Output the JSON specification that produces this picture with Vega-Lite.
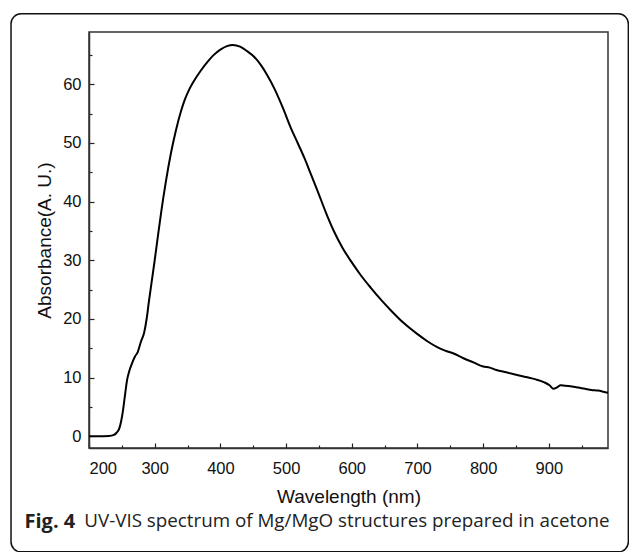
{
  "$schema": "https://vega.github.io/schema/vega-lite/v6.json",
  "padding": {"left": 9, "top": 12, "right": 0, "bottom": 0},
  "autosize": {"type": "pad"},
  "background": "white",
  "config": {
    "view": {"stroke": "#333", "strokeWidth": 1.5},
    "axis": {
      "labelFont": "Liberation Sans", "titleFont": "Liberation Sans",
      "labelColor": "#111", "titleColor": "#111", "titleFontWeight": "normal",
      "grid": false, "domainColor": "#333", "domainWidth": 1.5, "tickColor": "#222", "tickWidth": 1.2
    },
    "title": {"font": "Open Sans", "color": "#222"}
  },
  "title": {"text": "Fig. 4", "orient": "bottom", "anchor": "start", "fontWeight": "bold", "fontSize": 20, "offset": 0, "dx": 15, "dy": -41.5},
  "vconcat": [
    {
      "width": 519,
      "height": 416,
      "title": {"text": "UV-VIS spectrum of Mg/MgO structures prepared in acetone", "orient": "bottom", "anchor": "start", "fontWeight": "normal", "fontSize": 18.8, "offset": 0, "dx": 74, "dy": -41},
      "layer": [
        {
          "data": {"values": [{"box": "frame"}]},
          "mark": {"type": "rect", "filled": false, "stroke": "#111", "strokeWidth": 1.5, "cornerRadius": 10},
          "encoding": {
            "x": {"datum": 81.3, "type": "quantitative", "axis": {"orient": "bottom", "values": [250, 350, 450, 550, 650, 750, 850, 950], "tickSize": -3, "labels": false, "domain": false, "title": null}},
            "x2": {"datum": 1021},
            "y": {"datum": 72, "type": "quantitative", "axis": {"orient": "left", "values": [5, 15, 25, 35, 45, 55, 65], "tickSize": -3, "labels": false, "domain": false, "title": null}},
            "y2": {"datum": -19.7}
          }
        },
        {
          "data": {"values": [
            {"wavelength": 200, "absorbance": 0.0}, {"wavelength": 215, "absorbance": 0.0}, {"wavelength": 230, "absorbance": 0.05},
            {"wavelength": 238, "absorbance": 0.25}, {"wavelength": 242, "absorbance": 0.6}, {"wavelength": 246, "absorbance": 1.3},
            {"wavelength": 249, "absorbance": 2.6}, {"wavelength": 252, "absorbance": 4.6}, {"wavelength": 255, "absorbance": 7.2},
            {"wavelength": 258, "absorbance": 9.6}, {"wavelength": 261, "absorbance": 11.0}, {"wavelength": 265, "absorbance": 12.3},
            {"wavelength": 270, "absorbance": 13.6}, {"wavelength": 274, "absorbance": 14.3}, {"wavelength": 279, "absorbance": 16.1},
            {"wavelength": 284, "absorbance": 17.7}, {"wavelength": 288, "absorbance": 20.2}, {"wavelength": 291, "absorbance": 22.8},
            {"wavelength": 295, "absorbance": 26.0}, {"wavelength": 300, "absorbance": 30.0}, {"wavelength": 305, "absorbance": 34.2},
            {"wavelength": 310, "absorbance": 38.3}, {"wavelength": 317, "absorbance": 43.4}, {"wavelength": 325, "absorbance": 48.4},
            {"wavelength": 332, "absorbance": 52.0}, {"wavelength": 340, "absorbance": 55.4}, {"wavelength": 346, "absorbance": 57.4},
            {"wavelength": 353, "absorbance": 59.2}, {"wavelength": 360, "absorbance": 60.6}, {"wavelength": 370, "absorbance": 62.3},
            {"wavelength": 381, "absorbance": 63.9}, {"wavelength": 390, "absorbance": 65.0}, {"wavelength": 400, "absorbance": 65.9},
            {"wavelength": 410, "absorbance": 66.5}, {"wavelength": 419, "absorbance": 66.7}, {"wavelength": 430, "absorbance": 66.4},
            {"wavelength": 441, "absorbance": 65.6}, {"wavelength": 452, "absorbance": 64.6}, {"wavelength": 462, "absorbance": 63.2},
            {"wavelength": 472, "absorbance": 61.4}, {"wavelength": 482, "absorbance": 59.3}, {"wavelength": 495, "absorbance": 56.0},
            {"wavelength": 507, "absorbance": 52.6}, {"wavelength": 518, "absorbance": 49.9}, {"wavelength": 528, "absorbance": 47.4},
            {"wavelength": 538, "absorbance": 44.6}, {"wavelength": 548, "absorbance": 41.8}, {"wavelength": 560, "absorbance": 38.3},
            {"wavelength": 573, "absorbance": 34.9}, {"wavelength": 586, "absorbance": 32.1}, {"wavelength": 599, "absorbance": 29.8},
            {"wavelength": 614, "absorbance": 27.4}, {"wavelength": 629, "absorbance": 25.3}, {"wavelength": 645, "absorbance": 23.2},
            {"wavelength": 660, "absorbance": 21.4}, {"wavelength": 680, "absorbance": 19.2}, {"wavelength": 700, "absorbance": 17.4},
            {"wavelength": 715, "absorbance": 16.2}, {"wavelength": 730, "absorbance": 15.2}, {"wavelength": 742, "absorbance": 14.6},
            {"wavelength": 755, "absorbance": 14.1}, {"wavelength": 770, "absorbance": 13.3}, {"wavelength": 785, "absorbance": 12.6},
            {"wavelength": 800, "absorbance": 11.9}, {"wavelength": 810, "absorbance": 11.7}, {"wavelength": 820, "absorbance": 11.3},
            {"wavelength": 835, "absorbance": 10.9}, {"wavelength": 850, "absorbance": 10.5}, {"wavelength": 865, "absorbance": 10.1},
            {"wavelength": 880, "absorbance": 9.7}, {"wavelength": 893, "absorbance": 9.2}, {"wavelength": 901, "absorbance": 8.7},
            {"wavelength": 907, "absorbance": 8.1}, {"wavelength": 912, "absorbance": 8.3}, {"wavelength": 918, "absorbance": 8.7},
            {"wavelength": 925, "absorbance": 8.6}, {"wavelength": 935, "absorbance": 8.5}, {"wavelength": 945, "absorbance": 8.3},
            {"wavelength": 955, "absorbance": 8.1}, {"wavelength": 965, "absorbance": 7.9}, {"wavelength": 975, "absorbance": 7.8},
            {"wavelength": 983, "absorbance": 7.6}, {"wavelength": 990, "absorbance": 7.4}
          ]},
          "mark": {"type": "line", "color": "#000", "strokeWidth": 2, "interpolate": "monotone"},
          "encoding": {
            "x": {
              "field": "wavelength", "type": "quantitative",
              "scale": {"domain": [200, 990], "nice": false, "zero": false},
              "axis": {"orient": "bottom", "values": [200, 300, 400, 500, 600, 700, 800, 900], "tickSize": -5, "labelPadding": 17, "labelFontSize": 16.5, "title": "Wavelength (nm)", "titleFontSize": 19, "titlePadding": 11}
            },
            "y": {
              "field": "absorbance", "type": "quantitative",
              "scale": {"domain": [-2, 68.9], "nice": false, "zero": false},
              "axis": {"orient": "left", "values": [0, 10, 20, 30, 40, 50, 60], "tickSize": -5, "labelPadding": 13, "labelFontSize": 16.5, "title": "Absorbance(A. U.)", "titleFontSize": 19, "titlePadding": 8}
            }
          }
        }
      ],
      "resolve": {"axis": {"x": "independent", "y": "independent"}}
    }
  ]
}
